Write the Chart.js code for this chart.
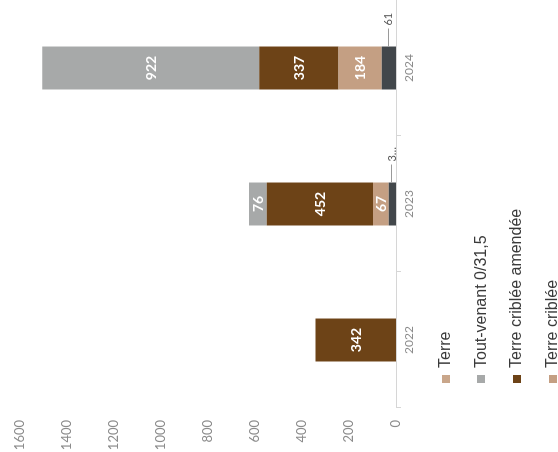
<!DOCTYPE html>
<html>
<head>
<meta charset="utf-8">
<script src="https://cdn.jsdelivr.net/npm/chart.js@4.4.1/dist/chart.umd.min.js"></script>
<style>
  html, body { margin: 0; padding: 0; background: #fff; width: 558px; height: 452px; overflow: hidden; }
  /* the chart is drawn upright, then turned a quarter turn to the left */
  #wrap { position: absolute; left: 0; top: 460px; width: 470px; height: 610px; transform-origin: 0 0; transform: rotate(-90deg); }
</style>
</head>
<body>
<div id="wrap"><canvas id="myChart" width="470" height="610"></canvas></div>
<script>
// données (tonnes)
const years = ['2022', '2023', '2024'];
const terre = [0, 0, 0];
const toutVenant = [0, 76, 922];
const terreCribleeAmendee = [342, 452, 337];
const terreCriblee = [0, 67, 184];
const autres = [0, 30.5, 61];

const yTicks = [0, 200, 400, 600, 800, 1000, 1200, 1400, 1600];

// du bas de la pile vers le haut
const datasets = [
  { label: 'Autres', data: autres, backgroundColor: '#42474b' },
  { label: 'Terre criblée', data: terreCriblee, backgroundColor: '#c49f83' },
  { label: 'Terre criblée amendée', data: terreCribleeAmendee, backgroundColor: '#6d4317' },
  { label: 'Tout-venant 0/31,5', data: toutVenant, backgroundColor: '#a7a9a9' },
  { label: 'Terre', data: terre, backgroundColor: '#c9a68a' },
];

function fmt(v) {
  return v.toLocaleString('fr-FR');
}

function fitText(ctx, txt, maxW) {
  if (ctx.measureText(txt).width <= maxW) return txt;
  while (txt.length > 1 && ctx.measureText(txt + '…').width > maxW) txt = txt.slice(0, -1);
  return txt + '…';
}

// valeurs dans les barres, ou à côté avec un petit trait si la barre est trop fine
const barLabels = {
  id: 'barLabels',
  afterDatasetsDraw(chart) {
    const ctx = chart.ctx;
    ctx.save();
    chart.data.datasets.forEach((ds, di) => {
      const meta = chart.getDatasetMeta(di);
      meta.data.forEach((bar, i) => {
        const value = ds.data[i];
        if (!value) return;
        const h = bar.base - bar.y;
        const mid = (bar.y + bar.base) / 2;
        if (h >= 15.2) {
          ctx.font = 'bold 14px Lato';
          ctx.fillStyle = '#ffffff';
          ctx.textAlign = 'center';
          ctx.textBaseline = 'middle';
          ctx.fillText(fmt(value), bar.x, mid + 0.5);
        } else {
          const x0 = bar.x + bar.width / 2;
          ctx.strokeStyle = '#9a9a9a';
          ctx.lineWidth = 1;
          ctx.beginPath();
          ctx.moveTo(x0, Math.round(mid) - 0.5);
          ctx.lineTo(x0 + 18, Math.round(mid) - 0.5);
          ctx.stroke();
          ctx.font = '11px Lato';
          ctx.fillStyle = '#555555';
          ctx.textAlign = 'left';
          ctx.textBaseline = 'middle';
          ctx.fillText(fitText(ctx, fmt(value), 18), x0 + 21, mid);
        }
      });
    });
    ctx.restore();
  }
};

// légende : un élément par ligne sous le graphique
const legendRows = {
  id: 'legendRows',
  afterDraw(chart) {
    const ctx = chart.ctx;
    const left = chart.chartArea.left + 25;
    const top = chart.chartArea.bottom + 49.5;
    ctx.save();
    ctx.font = '16px "Liberation Sans"';
    ctx.textBaseline = 'middle';
    ctx.textAlign = 'left';
    chart.data.datasets.slice().reverse().forEach((ds, i) => {
      const v = top + i * 35.7;
      ctx.fillStyle = ds.backgroundColor;
      ctx.fillRect(left, Math.round(v) - 4, 8, 8);
      ctx.fillStyle = '#3a3a3a';
      ctx.fillText(ds.label, left + 15, v);
    });
    ctx.restore();
  }
};

const myChart = new Chart(document.getElementById('myChart'), {
  type: 'bar',
  data: { labels: years, datasets: datasets },
  plugins: [barLabels, legendRows],
  options: {
    responsive: false,
    animation: false,
    layout: { padding: { top: 16, right: 10, left: 10, bottom: 190 } },
    datasets: { bar: { categoryPercentage: 1, barPercentage: 0.316, borderWidth: 0 } },
    plugins: {
      legend: { display: false },
      tooltip: { enabled: false },
    },
    scales: {
      x: {
        stacked: true,
        grid: { display: true, drawOnChartArea: false, tickLength: 5, color: '#d6d6d6', offset: true },
        border: { display: true, color: '#d6d6d6' },
        ticks: { color: '#8c8c8c', font: { family: 'Lato', size: 12 }, padding: 1 },
        afterFit(scale) { scale.height = 24; },
      },
      y: {
        stacked: true,
        min: yTicks[0],
        max: yTicks[yTicks.length - 1],
        afterBuildTicks(scale) { scale.ticks = yTicks.map(v => ({ value: v })); },
        grid: { display: false, drawTicks: false, tickLength: 0 },
        border: { display: false },
        ticks: {
          color: '#8c8c8c',
          font: { family: 'Lato', size: 13 },
          padding: 12,
          callback: (v) => String(v),
        },
        afterFit(scale) { scale.width = 42; },
      },
    },
  },
});
</script>
</body>
</html>
